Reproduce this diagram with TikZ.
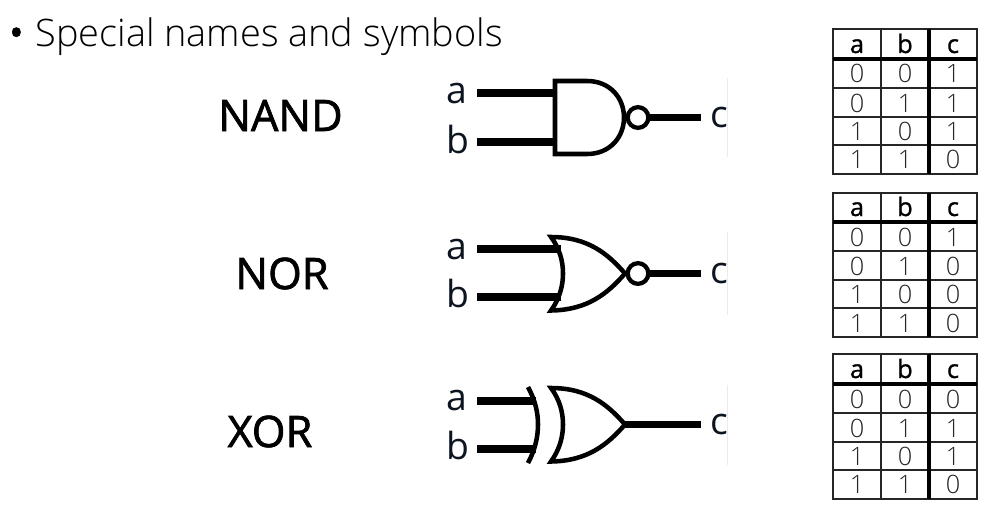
\documentclass[tikz,border=0pt]{standalone}
\usepackage{fontspec}
\setmainfont{Open Sans}
\newfontfamily\lightf{Open Sans Light}
\newfontfamily\semif[FakeBold=1.6]{Open Sans}
\newfontfamily\headf[FakeBold=1.0]{Open Sans}
\definecolor{inktxt}{HTML}{0C1420}
\definecolor{digit}{HTML}{262626}
\tikzset{
  x=0.75pt,y=-0.75pt,
  title/.style={anchor=base west,inner sep=0pt,font=\lightf\fontsize{28.4}{32}\selectfont,text=black},
  gatename/.style={anchor=base,inner sep=0pt,font=\semif\fontsize{32.5}{36}\selectfont,text=black},
  pin/.style={anchor=base,inner sep=0pt,font=\fontsize{28}{32}\selectfont,text=inktxt},
  wire/.style={line width=5.4pt},
  gateline/.style={line width=3.4pt,line join=miter,fill=white},
  bubble/.style={circle,draw,line width=3.2pt,minimum size=15.5pt,inner sep=0pt,fill=white},
  edgeline/.style={draw=black!8,line width=0.75pt},
  thin rule/.style={line width=1pt,draw=black!85},
  thick rule/.style={line width=2.4pt,draw=black},
  headtxt/.style={inner sep=0pt,anchor=base,font=\headf\fontsize{19}{22}\selectfont,text=black},
  celltxt/.style={inner sep=0pt,anchor=base,font=\lightf\fontsize{19}{22}\selectfont,text=digit},
}
% truth table: #1 name, #2 top y, #3..#7 row line ys, #8 c-column values
\newcommand{\truthtbl}[8]{%
  \foreach \yy in {#3,#5,#6} \draw[thin rule] (833,\yy) -- (977,\yy);
  \draw[thin rule] (833,#2) rectangle (977,#7);
  \draw[thin rule] (881,#2) -- (881,#7);
  \draw[thick rule] (833,#3+0) -- (977,#3+0);
  \draw[thin rule] (833,#4) -- (977,#4);
  \draw[thick rule] (929,#2) -- (929,#7);
  \node[headtxt] (#1ha) at (857,#3-6) {a};
  \node[headtxt] (#1hb) at (905,#3-6) {b};
  \node[headtxt] (#1hc) at (953,#3-6) {c};
  \foreach \ra/\rb/\rc/\ry/\rn in {#8}{
    \node[celltxt] (#1a\rn) at (857,\ry) {\ra};
    \node[celltxt] (#1b\rn) at (905,\ry) {\rb};
    \node[celltxt] (#1c\rn) at (953,\ry) {\rc};
  }%
}
\begin{document}
\begin{tikzpicture}
\useasboundingbox (0,0) rectangle (1005,517);
\node[title] (heading) at (9,46) {{\semif •}\hspace{9pt}Special names and symbols};

\node[gatename] (nandname) at (280.5,131) {NAND};
\node[gatename] (norname) at (282,289) {NOR};
\node[gatename] (xorname) at (270,447) {XOR};

% faint image edges
\draw[edgeline] (727,78) -- (727,157);
\draw[edgeline] (727,232) -- (727,315);
\draw[edgeline] (727,385) -- (727,465);

% NAND
\node[pin] (na) at (457,103) {a};
\node[pin] (nb) at (458,153) {b};
\node[pin] (nc) at (719,127) {c};
\coordinate (nai) at (477,93); \coordinate (nbi) at (477,142); \coordinate (nco) at (701,117.5);
\coordinate (nat) at (556,93); \coordinate (nbt) at (556,142);
\draw[wire] (nai) -- (nat);
\draw[wire] (nbi) -- (nbt);
\draw[gateline] (555,81) -- (587,81) .. controls (610,81) and (624,98) .. (624,117.5)
  .. controls (624,137) and (610,154) .. (587,154) -- (555,154) -- cycle;
\node[bubble] (nbub) at (638,117.5) {};
\draw[wire] (nbub.east) -- (nco);

% NOR
\node[pin] (ra) at (457,259) {a};
\node[pin] (rb) at (458,307) {b};
\node[pin] (rc) at (719,283) {c};
\coordinate (rai) at (477,249); \coordinate (rbi) at (477,297); \coordinate (rco) at (701,273.5);
\coordinate (rat) at (561,249); \coordinate (rbt) at (561,297);
\draw[wire] (rai) -- (rat);
\draw[wire] (rbi) -- (rbt);
\draw[gateline,fill=none] (551,237) .. controls (588,237) and (608,254) .. (625,273.5)
  .. controls (608,293) and (588,310) .. (551,310.5)
  .. controls (560,298) and (563,285) .. (563,273.5)
  .. controls (563,262) and (560,249) .. (551,237) -- cycle;
\node[bubble] (rbub) at (638,273.5) {};
\draw[wire] (rbub.east) -- (rco);

% XOR
\node[pin] (xa) at (457,410) {a};
\node[pin] (xb) at (458,459) {b};
\node[pin] (xc) at (719,434) {c};
\coordinate (xai) at (477,401); \coordinate (xbi) at (477,449);
\coordinate (xat) at (536,401); \coordinate (xbt) at (536,449);
\coordinate (xno) at (625,424.5); \coordinate (xco) at (701,424.5);
\draw[wire] (xai) -- (xat);
\draw[wire] (xbi) -- (xbt);
\draw[line width=3.4pt] (528,387) .. controls (535,400) and (538,412) .. (538,424.5)
  .. controls (538,437) and (535,450) .. (528,463);
\draw[gateline,fill=none] (551,388) .. controls (588,388) and (608,405) .. (625,424.5)
  .. controls (608,444) and (588,461) .. (551,461.5)
  .. controls (560,449) and (563,436) .. (563,424.5)
  .. controls (563,413) and (560,400) .. (551,388) -- cycle;
\draw[wire] (xno) -- (xco);

% tables
\truthtbl{ta}{29}{59}{88}{117}{145}{174}{0/0/1/83/1,0/1/1/112/2,1/0/1/140/3,1/1/0/168/4}
\truthtbl{tb}{193}{222}{251}{280}{308}{337}{0/0/1/246/1,0/1/0/275/2,1/0/0/303/3,1/1/0/332/4}
\truthtbl{tc}{354}{384}{413}{442}{470}{499}{0/0/0/408/1,0/1/1/437/2,1/0/1/465/3,1/1/0/493/4}
\end{tikzpicture}
\end{document}
